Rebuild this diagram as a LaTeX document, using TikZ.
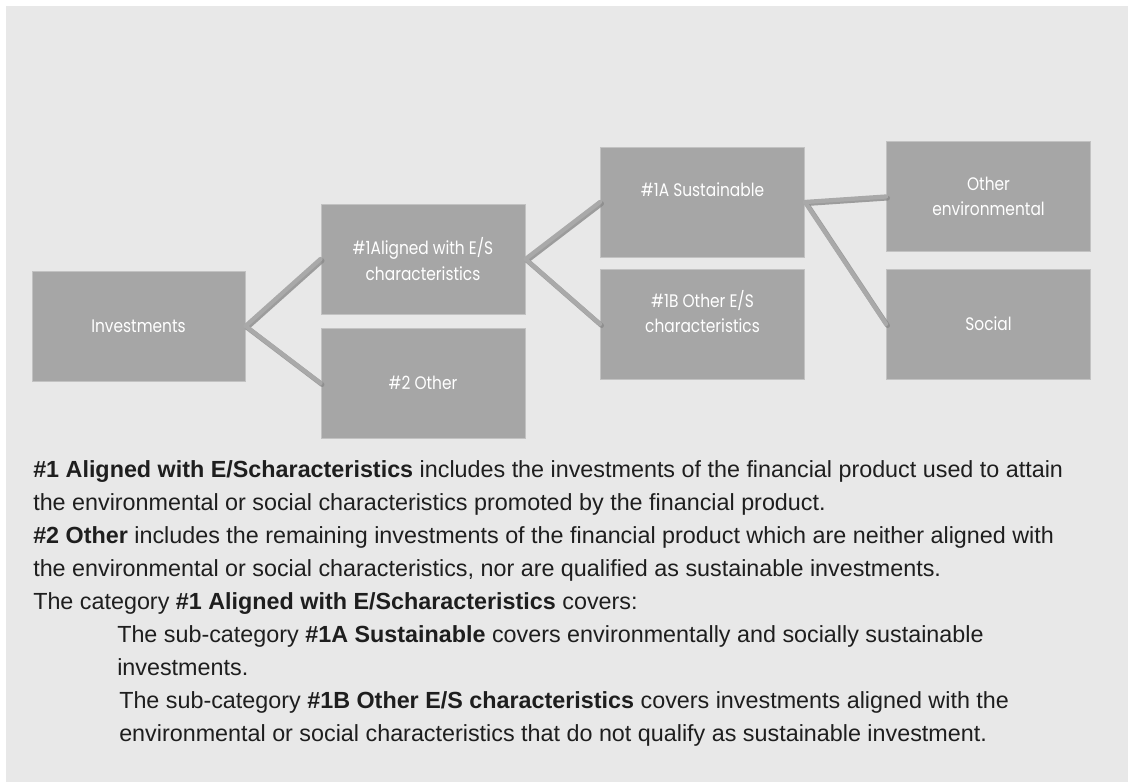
\documentclass[tikz,border=0pt]{standalone}
\usepackage{fontspec}
\setmainfont{Liberation Sans}
\newfontfamily\boxfont{Poppins}[FakeStretch=0.85]
\definecolor{bgc}{HTML}{E8E8E8}
\definecolor{boxc}{HTML}{A6A6A6}
\definecolor{boxedge}{HTML}{C2C2C2}
\definecolor{linec}{HTML}{A9A9A9}
\definecolor{shadc}{HTML}{8A8A8A}
\definecolor{txtc}{HTML}{1E1E1E}
\tikzset{
  bx/.style={draw=boxedge, line width=0.75pt, fill=boxc, text=white,
    minimum width=153pt, minimum height=82.5pt, inner sep=0pt,
    align=center, font=\boxfont\fontsize{13.6pt}{19pt}\selectfont},
  conn/.style={line width=3.2pt, draw=linec, line cap=round},
  connshadow/.style={line width=3.6pt, draw=shadc, line cap=round, opacity=0.8},
  body/.style={anchor=base west, inner sep=0pt, text=txtc,
    font=\fontsize{17.5pt}{21pt}\selectfont}
}
\begin{document}
\begin{tikzpicture}[x=0.75pt, y=-0.75pt]
\useasboundingbox (0,0) rectangle (1128,783);
\fill[white] (0,0) rectangle (1128,783);
\fill[bgc] (6,6) rectangle (1128,782);

% boxes
\node[bx, minimum width=159.75pt] (inv) at (138.5,326) {Investments};
\node[bx] (a1) at (423,259) {\#1Aligned with E/S\\characteristics};
\node[bx] (o2) at (423,383) {\#2 Other};
\node[bx] (s1a) at (702.5,202) {\#1A Sustainable\\\mbox{}};
\node[bx] (o1b) at (702.5,324) {\#1B Other E/S\\characteristics\\\mbox{}};
\node[bx] (env) at (988.5,196.5) {Other\\environmental};
\node[bx] (soc) at (988.5,324) {Social};

% connectors (shadow then line)
\begin{scope}[transform canvas={shift={(1.2pt,-1.2pt)}}]
\draw[connshadow] (inv.east) -- (a1.west);
\draw[connshadow] (inv.east) -- (o2.west);
\draw[connshadow] (a1.east) -- (s1a.west);
\draw[connshadow] (a1.east) -- (o1b.west);
\draw[connshadow] (s1a.east) -- (env.west);
\draw[connshadow] (s1a.east) -- (soc.west);
\end{scope}
\draw[conn] (inv.east) -- (a1.west);
\draw[conn] (inv.east) -- (o2.west);
\draw[conn] (a1.east) -- (s1a.west);
\draw[conn] (a1.east) -- (o1b.west);
\draw[conn] (s1a.east) -- (env.west);
\draw[conn] (s1a.east) -- (soc.west);

% body text
\node[body] (t1) at (33,477) {\textbf{\#1 Aligned with E/Scharacteristics} includes the investments of the financial product used to attain};
\node[body] (t2) at (33,510) {the environmental or social characteristics promoted by the financial product.};
\node[body] (t3) at (33,543) {\textbf{\#2 Other} includes the remaining investments of the financial product which are neither aligned with};
\node[body] (t4) at (33,576) {the environmental or social characteristics, nor are qualified as sustainable investments.};
\node[body] (t5) at (33,609) {The category \textbf{\#1 Aligned with E/Scharacteristics} covers:};
\node[body] (t6) at (117,642) {The sub-category \textbf{\#1A Sustainable} covers environmentally and socially sustainable};
\node[body] (t7) at (117,675) {investments.};
\node[body] (t8) at (119,708) {The sub-category \textbf{\#1B Other E/S characteristics} covers investments aligned with the};
\node[body] (t9) at (119,741) {environmental or social characteristics that do not qualify as sustainable investment.};
\end{tikzpicture}
\end{document}
